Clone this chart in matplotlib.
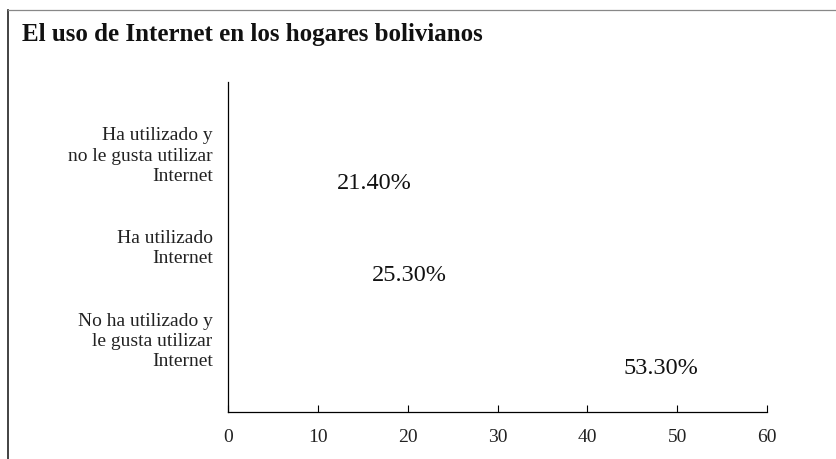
import matplotlib
matplotlib.use("Agg")
import matplotlib.pyplot as plt
from matplotlib.lines import Line2D

categorias = [
    "Ha utilizado y\nno le gusta utilizar\nInternet",
    "Ha utilizado\nInternet",
    "No ha utilizado y\nle gusta utilizar\nInternet",
]
valores = [21.4, 25.3, 53.3]
etiquetas = ["21.40%", "25.30%", "53.30%"]
xticks = [0, 10, 20, 30, 40, 50, 60]

plt.rcParams["font.family"] = ["Liberation Serif", "DejaVu Serif"]

fig = plt.figure(figsize=(8.37, 4.59), dpi=100)
ax = fig.add_axes([0.2724, 0.1024, 0.6440, 0.7190])

pos = list(range(len(categorias)))
# bars are white in the original, only the labels show
bars = ax.barh([p + 0.33 for p in pos], valores, height=0.5, color="white")
for b, lab in zip(bars, etiquetas):
    ax.annotate(lab, (b.get_width(), b.get_y() + b.get_height() / 2),
                xytext=(-6, 0), textcoords="offset points",
                ha="right", va="center", fontsize=17.5, color="#111111")

ax.set_xlim(0, 60)
ax.set_ylim(2.8, -0.76)
ax.set_xticks(xticks)
ax.set_xticklabels([str(t) for t in xticks], fontsize=14, color="#222222")
ax.set_yticks(pos)
ax.set_yticklabels(categorias, fontsize=14, color="#222222", linespacing=1.25)
ax.tick_params(axis="x", direction="in", length=5, width=0.8, pad=12)
ax.tick_params(axis="y", length=0, pad=11)
for s in ["top", "right"]:
    ax.spines[s].set_visible(False)
ax.spines["left"].set_linewidth(0.9)
ax.spines["bottom"].set_linewidth(0.9)

fig.text(0.026, 0.925, "El uso de Internet en los hogares bolivianos",
         fontsize=18, fontweight="bold", ha="left", va="center", color="#111111")

# frame lines of the scanned box
fig.add_artist(Line2D([0.01, 0.01], [0.0, 0.978], color="#222222", lw=1.2,
                      transform=fig.transFigure))
fig.add_artist(Line2D([0.01, 1.0], [0.978, 0.978], color="#888888", lw=0.9,
                      transform=fig.transFigure))

fig.savefig("out.png", dpi=100)
